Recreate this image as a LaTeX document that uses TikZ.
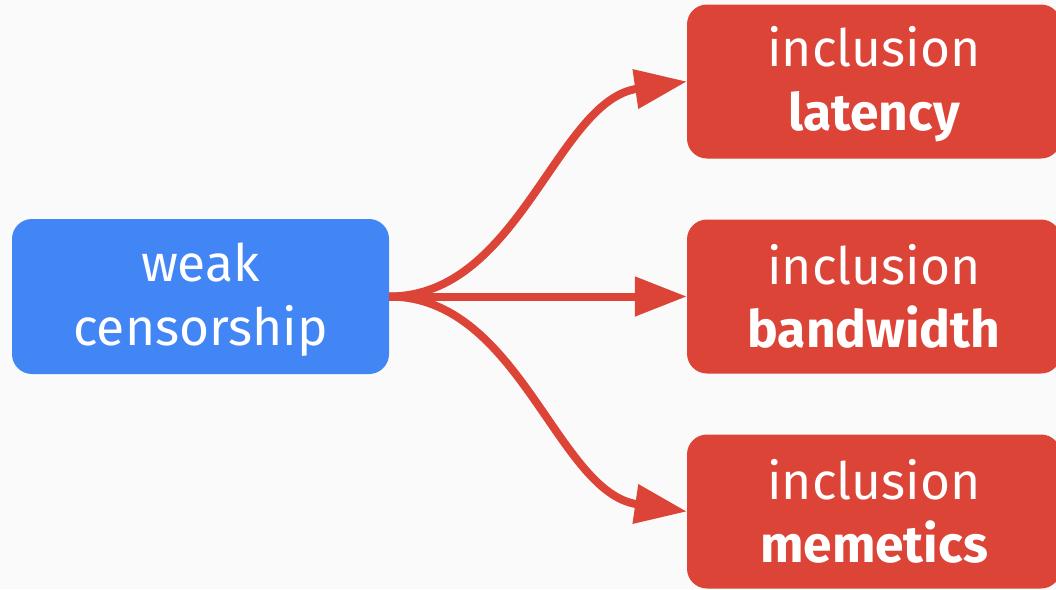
\documentclass[tikz,border=0pt]{standalone}
\usepackage{fontspec}
\setmainfont{Fira Sans}
\usetikzlibrary{arrows.meta}
\definecolor{bgc}{HTML}{FAFAFA}
\definecolor{gblue}{HTML}{4285F4}
\definecolor{gred}{HTML}{DB4437}
\newcommand\mystrut{\rule[-6pt]{0pt}{51pt}}
\tikzset{
  box/.style={rounded corners=20pt, inner sep=0pt, text=white, align=center,
    font=\fontsize{51.5}{63.5}\selectfont},
  srcbox/.style={box, fill=gblue, minimum width=377pt, minimum height=155pt},
  dstbox/.style={box, fill=gred, minimum width=374pt, minimum height=154pt},
  conn/.style={draw=gred, line width=8pt, -{Triangle[length=52pt,width=38pt]}, fill=none},
}
\begin{document}
\begin{tikzpicture}[x=1pt,y=-1pt]
\fill[bgc] (0,0) rectangle (1056,589);
\useasboundingbox (0,0) rectangle (1056,589);
\clip (0,0) rectangle (1056,589);
\node[srcbox] (w) at (200.5,296.5) {\mystrut weak\\\mystrut censorship};
\node[dstbox] (l) at (874,81.5) {\mystrut inclusion\\\mystrut\textbf{latency}};
\node[dstbox] (b) at (874,296.5) {\mystrut inclusion\\\mystrut\textbf{bandwidth}};
\node[dstbox] (m) at (874,511.5) {\mystrut inclusion\\\mystrut\textbf{memetics}};
\draw[conn] (w.east) .. controls +(130,0) and +(-130,19) .. (l.west);
\draw[conn] (w.east) -- (b.west);
\draw[conn] (w.east) .. controls +(130,0) and +(-130,-19) .. (m.west);
\end{tikzpicture}
\end{document}
